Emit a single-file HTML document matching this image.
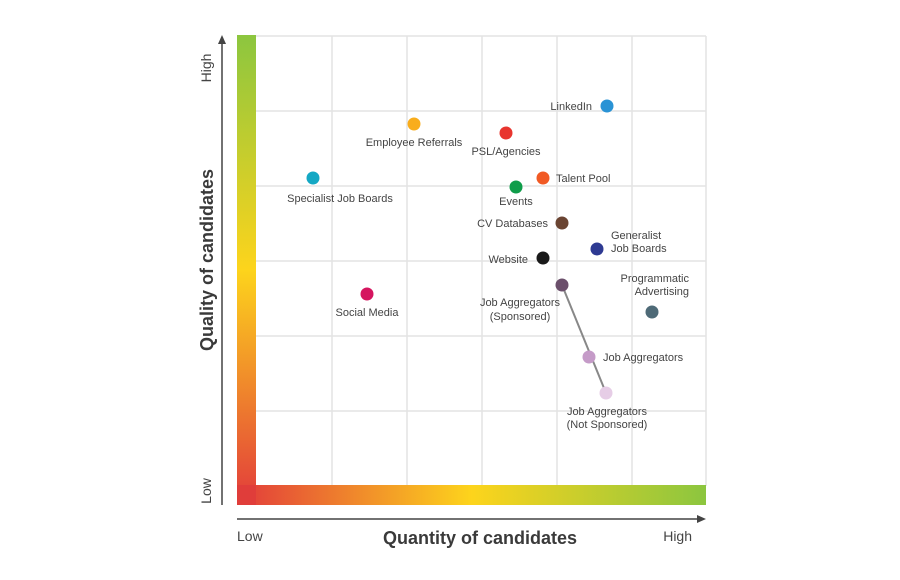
<!DOCTYPE html>
<html><head><meta charset="utf-8"><style>
html,body{margin:0;padding:0;background:#fff;}
svg{display:block;}
text{font-family:"Liberation Sans",sans-serif;fill:#444;}
</style></head><body>
<svg width="900" height="580" viewBox="0 0 900 580" xmlns="http://www.w3.org/2000/svg">
<defs>
<linearGradient id="gv" x1="0" y1="1" x2="0" y2="0">
<stop offset="0" stop-color="#e23b3b"/><stop offset="0.5" stop-color="#fdd41c"/><stop offset="1" stop-color="#8cc63f"/>
</linearGradient>
<linearGradient id="gh" x1="0" y1="0" x2="1" y2="0">
<stop offset="0" stop-color="#e23b3b"/><stop offset="0.5" stop-color="#fdd41c"/><stop offset="1" stop-color="#8cc63f"/>
</linearGradient>
</defs>
<g stroke="#e3e3e3" stroke-width="1.5" fill="none">
<line x1="256" y1="36" x2="706" y2="36"/>
<line x1="256" y1="111" x2="706" y2="111"/>
<line x1="256" y1="186" x2="706" y2="186"/>
<line x1="256" y1="261" x2="706" y2="261"/>
<line x1="256" y1="336" x2="706" y2="336"/>
<line x1="256" y1="411" x2="706" y2="411"/>
<line x1="332" y1="36" x2="332" y2="486"/>
<line x1="407" y1="36" x2="407" y2="486"/>
<line x1="482" y1="36" x2="482" y2="486"/>
<line x1="557" y1="36" x2="557" y2="486"/>
<line x1="632" y1="36" x2="632" y2="486"/>
<line x1="706" y1="36" x2="706" y2="486"/>
</g>
<rect x="237" y="35" width="19" height="470" fill="url(#gv)"/>
<rect x="237" y="485" width="469" height="20" fill="url(#gh)"/>
<rect x="237" y="485" width="19" height="20" fill="#e03d3a"/>
<line x1="222" y1="505" x2="222" y2="42" stroke="#444" stroke-width="1.5"/>
<polygon points="222,35 218,44 226,44" fill="#444"/>
<line x1="237" y1="519" x2="698" y2="519" stroke="#444" stroke-width="1.5"/>
<polygon points="706,519 697,515 697,523" fill="#444"/>
<text x="211" y="68" font-size="14" text-anchor="middle" transform="rotate(-90 211 68)">High</text>
<text x="211" y="491" font-size="14" text-anchor="middle" transform="rotate(-90 211 491)">Low</text>
<text x="213" y="260" font-size="18" font-weight="bold" text-anchor="middle" transform="rotate(-90 213 260)" style="fill:#3a3a3a">Quality of candidates</text>
<text x="237" y="541" font-size="14">Low</text>
<text x="692" y="541" font-size="14" text-anchor="end">High</text>
<text x="480" y="544" font-size="18" font-weight="bold" text-anchor="middle" style="fill:#3a3a3a">Quantity of candidates</text>
<line x1="562" y1="285" x2="606" y2="393" stroke="#888" stroke-width="2"/>
<g stroke="none">
<circle cx="607" cy="106" r="6.5" fill="#2a93d5"/>
<circle cx="414" cy="124" r="6.5" fill="#f9ad1c"/>
<circle cx="506" cy="133" r="6.5" fill="#e8352e"/>
<circle cx="313" cy="178" r="6.5" fill="#14a8c4"/>
<circle cx="543" cy="178" r="6.5" fill="#f15a24"/>
<circle cx="516" cy="187" r="6.5" fill="#0f9d4a"/>
<circle cx="562" cy="223" r="6.5" fill="#6a4432"/>
<circle cx="597" cy="249" r="6.5" fill="#2e3a92"/>
<circle cx="543" cy="258" r="6.5" fill="#1a1a1a"/>
<circle cx="562" cy="285" r="6.5" fill="#6b4f6b"/>
<circle cx="367" cy="294" r="6.5" fill="#d5155f"/>
<circle cx="652" cy="312" r="6.5" fill="#4e6a77"/>
<circle cx="589" cy="357" r="6.5" fill="#c59bc8"/>
<circle cx="606" cy="393" r="6.5" fill="#e6cde6"/>
</g>
<g font-size="11">
<text x="592" y="110" text-anchor="end">LinkedIn</text>
<text x="414" y="146" text-anchor="middle">Employee Referrals</text>
<text x="506" y="155" text-anchor="middle">PSL/Agencies</text>
<text x="340" y="202" text-anchor="middle">Specialist Job Boards</text>
<text x="556" y="182">Talent Pool</text>
<text x="516" y="205" text-anchor="middle">Events</text>
<text x="548" y="227" text-anchor="end">CV Databases</text>
<text x="611" y="239">Generalist</text>
<text x="611" y="252">Job Boards</text>
<text x="528" y="263" text-anchor="end">Website</text>
<text x="689" y="282" text-anchor="end">Programmatic</text>
<text x="689" y="295" text-anchor="end">Advertising</text>
<text x="520" y="306" text-anchor="middle">Job Aggregators</text>
<text x="520" y="320" text-anchor="middle">(Sponsored)</text>
<text x="367" y="316" text-anchor="middle">Social Media</text>
<text x="603" y="361">Job Aggregators</text>
<text x="607" y="415" text-anchor="middle">Job Aggregators</text>
<text x="607" y="428" text-anchor="middle">(Not Sponsored)</text>
</g>
</svg>
</body></html>
